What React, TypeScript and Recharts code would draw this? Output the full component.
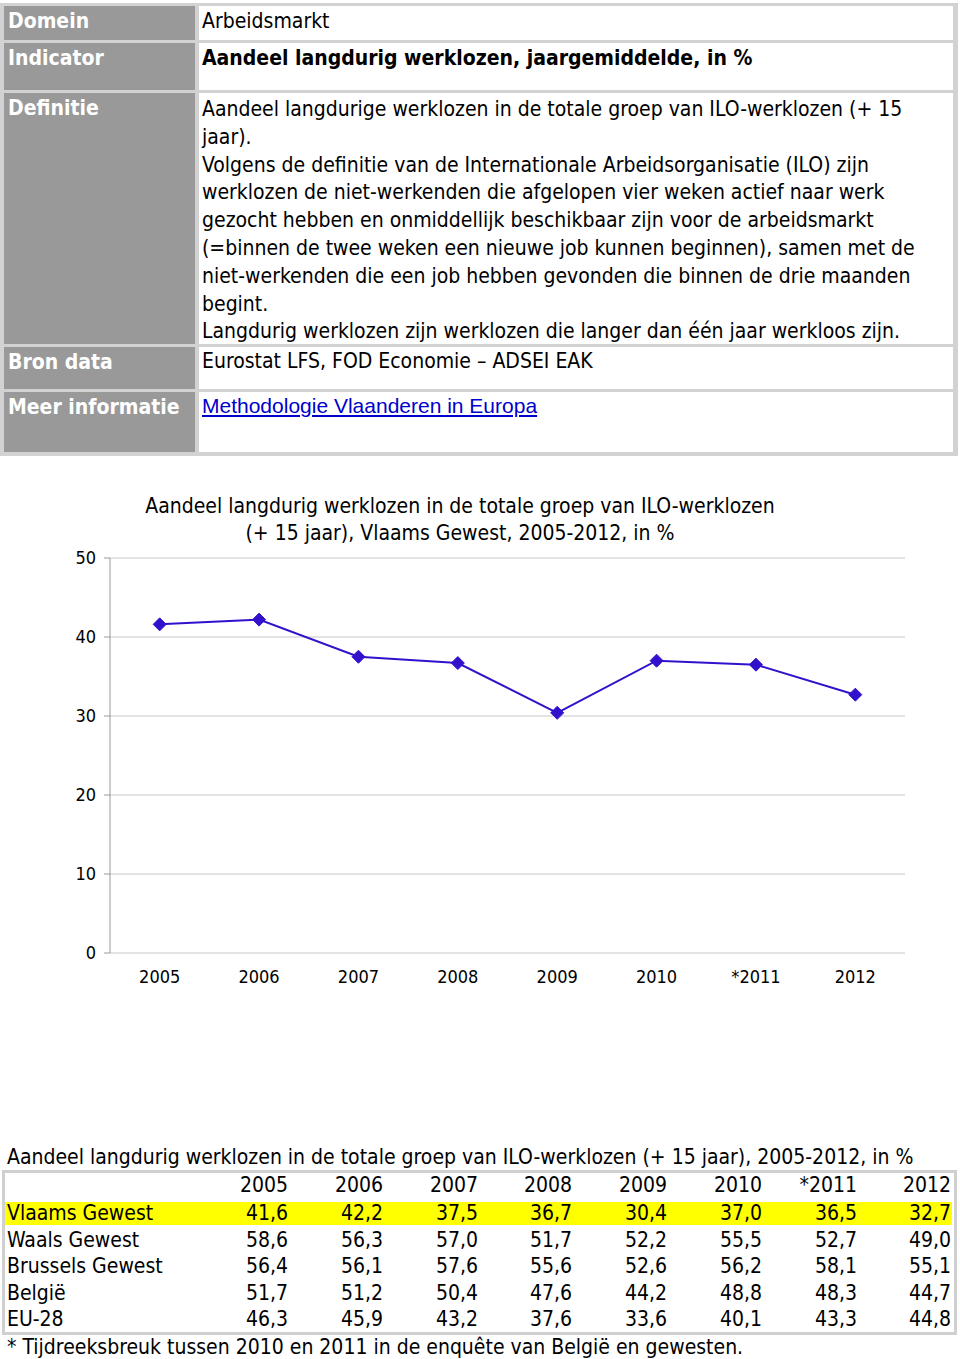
import React from 'react';
import { LineChart, Line, XAxis, YAxis, CartesianGrid } from 'recharts';

const years = ['2005', '2006', '2007', '2008', '2009', '2010', '*2011', '2012'];
const vlaams = [41.6, 42.2, 37.5, 36.7, 30.4, 37.0, 36.5, 32.7];
const waals = [58.6, 56.3, 57.0, 51.7, 52.2, 55.5, 52.7, 49.0];
const brussels = [56.4, 56.1, 57.6, 55.6, 52.6, 56.2, 58.1, 55.1];
const belgie = [51.7, 51.2, 50.4, 47.6, 44.2, 48.8, 48.3, 44.7];
const eu28 = [46.3, 45.9, 43.2, 37.6, 33.6, 40.1, 43.3, 44.8];
const yTicks = [0, 10, 20, 30, 40, 50];
const boundaryTicks = [0, 1, 2, 3, 4, 5, 6, 7, 8];

const tableRows = [
  { name: 'Vlaams Gewest', values: vlaams, highlight: true },
  { name: 'Waals Gewest', values: waals, highlight: false },
  { name: 'Brussels Gewest', values: brussels, highlight: false },
  { name: 'België', values: belgie, highlight: false },
  { name: 'EU-28', values: eu28, highlight: false },
];

const definitieLines = [
  'Aandeel langdurige werklozen in de totale groep van ILO-werklozen (+ 15',
  'jaar).',
  'Volgens de definitie van de Internationale Arbeidsorganisatie (ILO) zijn',
  'werklozen de niet-werkenden die afgelopen vier weken actief naar werk',
  'gezocht hebben en onmiddellijk beschikbaar zijn voor de arbeidsmarkt',
  '(=binnen de twee weken een nieuwe job kunnen beginnen), samen met de',
  'niet-werkenden die een job hebben gevonden die binnen de drie maanden',
  'begint.',
  'Langdurig werklozen zijn werklozen die langer dan één jaar werkloos zijn.',
];

const chartData = years.map((y, i) => ({ year: y, v: vlaams[i] }));
const fmt = (v: number) => v.toFixed(1).replace('.', ',');

const FONT = '"DejaVu Sans Condensed", "DejaVu Sans", sans-serif';
const LINE = '#3311CC';
const FS = 21;

const Diamond = (props: any) => {
  const { cx, cy } = props;
  if (cx == null || cy == null) return null;
  const r = 6.5;
  return (
    <polygon
      points={`${cx},${cy - r} ${cx + r},${cy} ${cx},${cy + r} ${cx - r},${cy}`}
      fill={LINE}
      stroke={LINE}
      strokeWidth={1}
    />
  );
};

const abs = (left: number, top: number, width: number, height: number, extra: any = {}) => ({
  position: 'absolute' as const,
  left,
  top,
  width,
  height,
  ...extra,
});

const topRows = [
  { label: 'Domein', top: 6, height: 34 },
  { label: 'Indicator', top: 43, height: 47 },
  { label: 'Definitie', top: 93, height: 251 },
  { label: 'Bron data', top: 347, height: 42 },
  { label: 'Meer informatie', top: 392, height: 60 },
];

const colRight = [288, 383, 478, 572, 667, 762, 857, 951];

export default function App() {
  const cellText = { fontFamily: FONT, fontSize: FS, lineHeight: '27.8px', whiteSpace: 'nowrap' as const, color: '#000' };
  const tblText = { fontFamily: FONT, fontSize: FS, lineHeight: '28px', whiteSpace: 'nowrap' as const, color: '#000' };
  return (
    <div style={{ position: 'absolute', left: 0, top: 0, width: 960, height: 1359, background: '#fff', fontFamily: FONT }}>
      {/* top info table */}
      <div style={abs(0, 3, 958, 453, { background: '#d2d2d2' })} />
      {topRows.map((r) => (
        <React.Fragment key={r.label}>
          <div style={abs(4, r.top, 191, r.height, { background: '#999999' })}>
            <div style={{ ...cellText, color: '#fff', fontWeight: 'bold', paddingLeft: 4, paddingTop: 1.5 }}>{r.label}</div>
          </div>
          <div style={abs(199, r.top, 754, r.height, { background: '#ffffff' })} />
        </React.Fragment>
      ))}
      <div style={abs(202, 8, 740, 30, cellText)}>Arbeidsmarkt</div>
      <div style={abs(202, 45, 740, 30, { ...cellText, fontWeight: 'bold' })}>
        Aandeel langdurig werklozen, jaargemiddelde, in %
      </div>
      <div style={abs(202, 96, 750, 250, cellText)}>
        {definitieLines.map((l, i) => (
          <div key={i}>{l}</div>
        ))}
      </div>
      <div style={abs(202, 348, 740, 30, cellText)}>Eurostat LFS, FOD Economie – ADSEI EAK</div>
      <div style={abs(202, 392, 740, 30, cellText)}>
        <a href="#" style={{ color: '#0000cc', textDecoration: 'underline', fontFamily: 'Arial, "Liberation Sans", sans-serif' }}>
          Methodologie Vlaanderen in Europa
        </a>
      </div>

      {/* chart title */}
      <div
        style={abs(60, 493, 800, 60, {
          fontFamily: FONT,
          fontSize: FS,
          lineHeight: '27px',
          textAlign: 'center',
          color: '#000',
          whiteSpace: 'nowrap',
        })}
      >
        <div>Aandeel langdurig werklozen in de totale groep van ILO-werklozen</div>
        <div>(+ 15 jaar), Vlaams Gewest, 2005-2012, in %</div>
      </div>

      {/* chart */}
      <div style={abs(0, 480, 960, 530)}>
        <LineChart width={960} height={530} data={chartData} margin={{ top: 78, right: 55, bottom: 17, left: 0 }}>
          <CartesianGrid vertical={false} stroke="#c8c8c8" strokeWidth={1} />
          <XAxis
            xAxisId="marks"
            type="number"
            domain={[0, 8]}
            ticks={boundaryTicks}
            tick={false}
            tickSize={5}
            height={0}
            stroke="#9a9a9a"
            axisLine={{ stroke: '#9a9a9a' }}
            tickLine={{ stroke: '#9a9a9a' }}
          />
          <XAxis
            xAxisId="cat"
            dataKey="year"
            scale="band"
            height={40}
            axisLine={false}
            tickLine={false}
            tickSize={6}
            tickMargin={11}
            interval={0}
            tick={{ fill: '#000', fontSize: 18, fontFamily: FONT }}
          />
          <YAxis
            width={110}
            domain={[0, 50]}
            ticks={yTicks}
            interval={0}
            tickSize={6}
            tickMargin={8}
            axisLine={{ stroke: '#9a9a9a' }}
            tickLine={{ stroke: '#9a9a9a' }}
            tick={{ fill: '#000', fontSize: 18, fontFamily: FONT }}
          />
          <Line
            xAxisId="cat"
            dataKey="v"
            stroke={LINE}
            strokeWidth={2}
            dot={<Diamond />}
            activeDot={false}
            isAnimationActive={false}
          />
        </LineChart>
      </div>

      {/* bottom table */}
      <div style={abs(7, 1143, 950, 28, tblText)}>
        Aandeel langdurig werklozen in de totale groep van ILO-werklozen (+ 15 jaar), 2005-2012, in %
      </div>
      <div style={abs(2, 1170, 955, 165, { background: '#d0d0d0' })} />
      <div style={abs(5, 1173, 949, 159, { background: '#fff' })} />
      <div style={abs(5, 1202, 947, 23, { background: '#ffff00' })} />
      {years.map((y, i) => (
        <div key={y} style={abs(colRight[i] - 94, 1185 - 14, 94, 28, { ...tblText, textAlign: 'right' })}>
          {y}
        </div>
      ))}
      {tableRows.map((r, ri) => {
        const cy = 1213 + ri * 26.6;
        return (
          <React.Fragment key={r.name}>
            <div style={abs(7, cy - 14, 190, 28, tblText)}>{r.name}</div>
            {r.values.map((v, i) => (
              <div key={i} style={abs(colRight[i] - 94, cy - 14, 94, 28, { ...tblText, textAlign: 'right' })}>
                {fmt(v)}
              </div>
            ))}
          </React.Fragment>
        );
      })}
      <div style={abs(7, 1333, 950, 28, tblText)}>
        * Tijdreeksbreuk tussen 2010 en 2011 in de enquête van België en gewesten.
      </div>
    </div>
  );
}
